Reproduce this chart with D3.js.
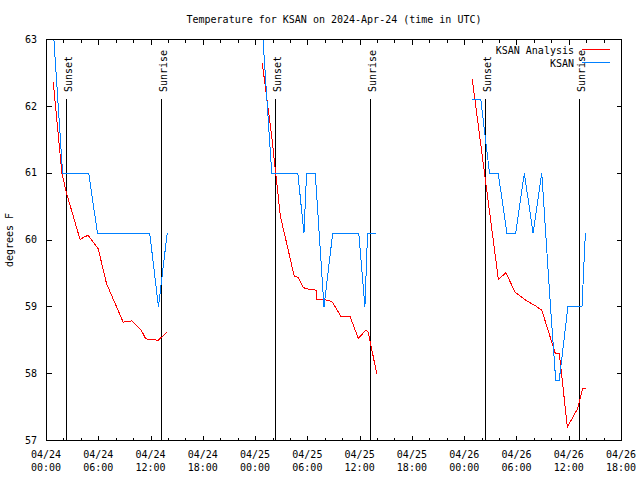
<!DOCTYPE html>
<html>
<head>
<meta charset="utf-8">
<script src="https://cdn.jsdelivr.net/npm/d3@7"></script>
<style>
  html, body { margin: 0; padding: 0; background: #fff; }
  svg { display: block; }
  text { font-family: "DejaVu Sans Mono", "Liberation Mono", monospace; font-size: 10px; fill: #000; }
</style>
</head>
<body>
<svg id="chart" width="640" height="480"></svg>
<script>
// ---------------- DATA ----------------
const titleText = "Temperature for KSAN on 2024-Apr-24 (time in UTC)";
const yLabelText = "degrees F";
const seriesNames = ["KSAN Analysis", "KSAN"];
const xDomain = ["2024-04-24T00:00", "2024-04-26T18:00"];
const yDomain = [57, 63];
const yTickValues = [57, 58, 59, 60, 61, 62, 63];

// KSAN observations (blue), per day segment
const obsDay1 = [
  ["2024-04-24T00:51", 63.0], ["2024-04-24T01:51", 61.0], ["2024-04-24T02:51", 61.0],
  ["2024-04-24T03:51", 61.0], ["2024-04-24T04:51", 61.0], ["2024-04-24T05:51", 60.1],
  ["2024-04-24T06:51", 60.1], ["2024-04-24T07:51", 60.1], ["2024-04-24T08:51", 60.1],
  ["2024-04-24T09:51", 60.1], ["2024-04-24T10:51", 60.1], ["2024-04-24T11:51", 60.1],
  ["2024-04-24T12:51", 59.0], ["2024-04-24T13:51", 60.1]
];
const obsDay2 = [
  ["2024-04-25T00:51", 63.0], ["2024-04-25T01:51", 61.0], ["2024-04-25T02:51", 61.0],
  ["2024-04-25T03:51", 61.0], ["2024-04-25T04:51", 61.0], ["2024-04-25T05:33", 60.1],
  ["2024-04-25T05:51", 61.0], ["2024-04-25T06:51", 61.0], ["2024-04-25T07:51", 59.0],
  ["2024-04-25T08:51", 60.1], ["2024-04-25T09:51", 60.1], ["2024-04-25T10:51", 60.1],
  ["2024-04-25T11:51", 60.1], ["2024-04-25T12:33", 59.0], ["2024-04-25T12:51", 60.1],
  ["2024-04-25T13:51", 60.1]
];
const obsDay3 = [
  ["2024-04-26T00:51", 62.1], ["2024-04-26T01:51", 62.1], ["2024-04-26T02:51", 61.0],
  ["2024-04-26T03:51", 61.0], ["2024-04-26T04:51", 60.1], ["2024-04-26T05:51", 60.1],
  ["2024-04-26T06:51", 61.0], ["2024-04-26T07:51", 60.1], ["2024-04-26T08:51", 61.0],
  ["2024-04-26T09:51", 59.0], ["2024-04-26T10:27", 57.9], ["2024-04-26T10:51", 57.9],
  ["2024-04-26T11:51", 59.0], ["2024-04-26T12:51", 59.0], ["2024-04-26T13:28", 59.0],
  ["2024-04-26T13:51", 60.1]
];

// KSAN Analysis (red), per day segment
const anaDay1 = [
  ["2024-04-24T00:46", 62.37], ["2024-04-24T01:46", 61.0], ["2024-04-24T02:18", 60.7],
  ["2024-04-24T03:52", 60.0], ["2024-04-24T04:12", 60.04], ["2024-04-24T04:47", 60.07],
  ["2024-04-24T05:56", 59.87], ["2024-04-24T06:53", 59.35], ["2024-04-24T08:48", 58.77],
  ["2024-04-24T09:46", 58.79], ["2024-04-24T10:55", 58.64], ["2024-04-24T11:24", 58.52],
  ["2024-04-24T12:49", 58.5], ["2024-04-24T13:51", 58.62]
];
const anaDay2 = [
  ["2024-04-25T00:46", 62.65], ["2024-04-25T01:51", 61.55], ["2024-04-25T02:51", 60.35],
  ["2024-04-25T03:34", 59.95], ["2024-04-25T04:26", 59.46], ["2024-04-25T04:53", 59.44],
  ["2024-04-25T05:28", 59.29], ["2024-04-25T05:51", 59.27], ["2024-04-25T06:56", 59.25],
  ["2024-04-25T07:00", 59.11], ["2024-04-25T08:20", 59.10], ["2024-04-25T08:50", 59.07],
  ["2024-04-25T09:46", 58.86], ["2024-04-25T10:50", 58.86], ["2024-04-25T11:47", 58.53],
  ["2024-04-25T12:40", 58.65], ["2024-04-25T12:56", 58.62], ["2024-04-25T13:54", 58.0]
];
const anaDay3 = [
  ["2024-04-26T00:52", 62.41], ["2024-04-26T03:52", 59.41], ["2024-04-26T04:44", 59.51],
  ["2024-04-26T05:47", 59.22], ["2024-04-26T07:07", 59.09], ["2024-04-26T08:04", 59.02],
  ["2024-04-26T08:51", 58.95], ["2024-04-26T10:23", 58.31], ["2024-04-26T10:52", 58.30],
  ["2024-04-26T11:47", 57.2], ["2024-04-26T12:56", 57.47], ["2024-04-26T13:33", 57.78],
  ["2024-04-26T13:54", 57.78]
];

// Sun events
const sunsetTimes = ["2024-04-24T02:17", "2024-04-25T02:20", "2024-04-26T02:22"];
const sunriseTimes = ["2024-04-24T13:10", "2024-04-25T13:10", "2024-04-26T13:10"];

// ---------------- CHART ----------------
const parse = d3.utcParse("%Y-%m-%dT%H:%M");
const svg = d3.select("#chart");

const L = 46.5, R = 621.5, T = 39.5, B = 440.5;
const x = d3.scaleUtc().domain(xDomain.map(parse)).range([L, R]);
const y = d3.scaleLinear().domain(yDomain).range([B, T]);

const red = "#ff0000", blue = "#0080ff";

// Title
svg.append("text").attr("x", (L + R) / 2).attr("y", 23)
  .attr("text-anchor", "middle").text(titleText);

// Y label
svg.append("text").attr("transform", `translate(13,${(T + B) / 2}) rotate(-90)`)
  .attr("text-anchor", "middle").text(yLabelText);

// Ticks
const t0 = parse(xDomain[0]), t1 = parse(xDomain[1]);
const majorTicks = d3.utcHour.every(6).range(t0, d3.utcMinute.offset(t1, 1));
const minorTicks = d3.utcHour.every(2).range(t0, d3.utcMinute.offset(t1, 1))
  .filter(d => d.getUTCHours() % 6 !== 0);

function styleAxis(g) {
  g.select(".domain").remove();
  g.selectAll("line").attr("shape-rendering", "crispEdges").attr("stroke", "#000");
  g.attr("font-family", null).attr("font-size", null);
}

svg.append("g").attr("transform", `translate(0,${B})`)
  .call(d3.axisBottom(x).tickValues(majorTicks).tickSize(-5).tickFormat("").offset(0)).call(styleAxis);
svg.append("g").attr("transform", `translate(0,${B})`)
  .call(d3.axisBottom(x).tickValues(minorTicks).tickSize(-3).tickFormat("").offset(0)).call(styleAxis);
svg.append("g").attr("transform", `translate(0,${T})`)
  .call(d3.axisTop(x).tickValues(majorTicks).tickSize(-5).tickFormat("").offset(0)).call(styleAxis);
svg.append("g").attr("transform", `translate(0,${T})`)
  .call(d3.axisTop(x).tickValues(minorTicks).tickSize(-3).tickFormat("").offset(0)).call(styleAxis);

svg.append("g").attr("transform", `translate(${L},0)`)
  .call(d3.axisLeft(y).tickValues(yTickValues).tickSize(-5).tickPadding(9.5)
    .tickFormat(d3.format("d")).offset(0)).call(styleAxis);
svg.append("g").attr("transform", `translate(${R},0)`)
  .call(d3.axisRight(y).tickValues(yTickValues).tickSize(-5).tickFormat("").offset(0)).call(styleAxis);

// X tick labels (two lines)
const fmtDate = d3.utcFormat("%m/%d"), fmtTime = d3.utcFormat("%H:%M");
const xl = svg.append("g").selectAll("text").data(majorTicks).join("text")
  .attr("text-anchor", "middle");
xl.append("tspan").attr("x", d => x(d) - 0.5).attr("y", 457.5).text(fmtDate);
xl.append("tspan").attr("x", d => x(d) - 0.5).attr("y", 471).text(fmtTime);

// Sunset / Sunrise lines
const sunEvents = sunsetTimes.map(t => ({ t: parse(t), label: "Sunset" }))
  .concat(sunriseTimes.map(t => ({ t: parse(t), label: "Sunrise" })));
const sg = svg.append("g");
sg.selectAll("line").data(sunEvents).join("line")
  .attr("x1", d => Math.floor(x(d.t)) + 0.5).attr("x2", d => Math.floor(x(d.t)) + 0.5)
  .attr("y1", 99).attr("y2", B)
  .attr("stroke", "#000").attr("stroke-width", 1).attr("shape-rendering", "crispEdges");
sg.selectAll("text").data(sunEvents).join("text")
  .attr("transform", d => `translate(${Math.floor(x(d.t)) + 6},92) rotate(-90)`)
  .attr("text-anchor", "start").text(d => d.label);

// Data lines
const clip = svg.append("clipPath").attr("id", "plotclip");
clip.append("rect").attr("x", L).attr("y", T).attr("width", R - L).attr("height", B - T);

const line = d3.line().x(d => x(parse(d[0]))).y(d => y(d[1]));
const dataG = svg.append("g").attr("clip-path", "url(#plotclip)");
[anaDay1, anaDay2, anaDay3].forEach(seg => {
  dataG.append("path").datum(seg).attr("d", line)
    .attr("fill", "none").attr("stroke", red).attr("stroke-width", 1)
    .attr("shape-rendering", "crispEdges");
});
[obsDay1, obsDay2, obsDay3].forEach(seg => {
  dataG.append("path").datum(seg).attr("d", line)
    .attr("fill", "none").attr("stroke", blue).attr("stroke-width", 1)
    .attr("shape-rendering", "crispEdges");
});

// Border
svg.append("rect").attr("x", L).attr("y", T).attr("width", R - L).attr("height", B - T)
  .attr("fill", "none").attr("stroke", "#000").attr("stroke-width", 1)
  .attr("shape-rendering", "crispEdges");

// Legend
const legend = [
  { name: seriesNames[0], color: red, y: 49.5 },
  { name: seriesNames[1], color: blue, y: 62.5 }
];
const lg = svg.append("g");
legend.forEach(item => {
  lg.append("text").attr("x", 574).attr("y", item.y + 4).attr("text-anchor", "end").text(item.name);
  lg.append("line").attr("x1", 582).attr("x2", 610).attr("y1", item.y).attr("y2", item.y)
    .attr("stroke", item.color).attr("stroke-width", 1).attr("shape-rendering", "crispEdges");
});
</script>
</body>
</html>
